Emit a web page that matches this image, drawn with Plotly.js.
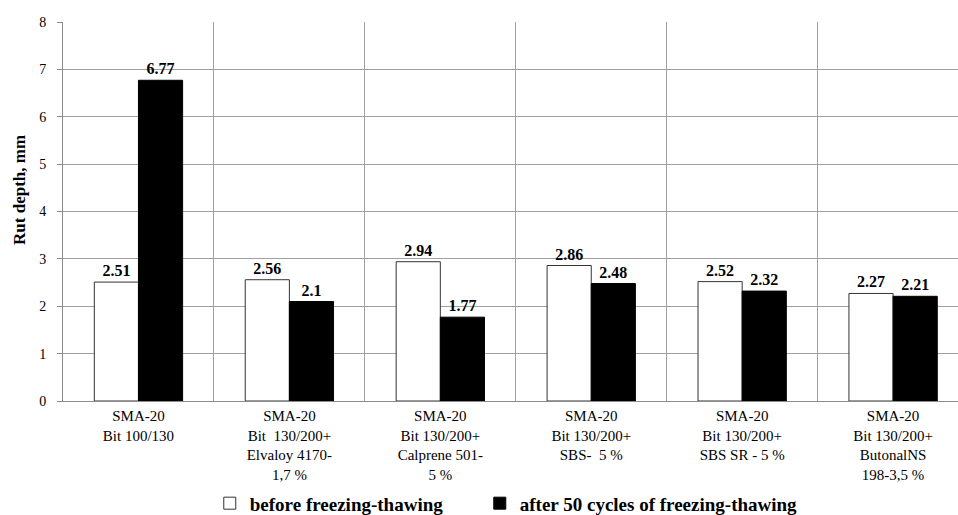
<!DOCTYPE html>
<html>
<head>
<meta charset="utf-8">
<script src="https://cdn.plot.ly/plotly-3.0.1.min.js"></script>
<style>html,body{margin:0;padding:0;background:#fff;overflow:hidden;}#chart{width:958px;height:515px;}</style>
</head>
<body>
<div id="chart"></div>
<script>
var categories = [
  "SMA-20<br>Bit 100/130",
  "SMA-20<br>Bit  130/200+<br>Elvaloy 4170-<br>1,7 %",
  "SMA-20<br>Bit 130/200+<br>Calprene 501-<br>5 %",
  "SMA-20<br>Bit 130/200+<br>SBS-  5 %",
  "SMA-20<br>Bit 130/200+<br>SBS SR - 5 %",
  "SMA-20<br>Bit 130/200+<br>ButonalNS<br>198-3,5 %"
];
var beforeValues = [2.51, 2.56, 2.94, 2.86, 2.52, 2.27];
var afterValues = [6.77, 2.1, 1.77, 2.48, 2.32, 2.21];
var seriesNames = ["before freezing-thawing", "after 50 cycles of freezing-thawing"];
var yTicks = [0, 1, 2, 3, 4, 5, 6, 7, 8];
var yTitle = "Rut depth, mm";

var serif = "Liberation Serif, Times New Roman, serif";

var traces = [
  {
    type: "bar", name: seriesNames[0], x: categories, y: beforeValues,
    marker: {color: "#ffffff", line: {color: "#333333", width: 1}},
    text: beforeValues.map(String), textposition: "outside", cliponaxis: false,
    textfont: {family: serif, size: 16, color: "#000", weight: "bold"},
    legendwidth: 225
  },
  {
    type: "bar", name: seriesNames[1], x: categories, y: afterValues,
    marker: {color: "#000000", line: {color: "#000000", width: 1}},
    text: afterValues.map(String), textposition: "outside", cliponaxis: false,
    textfont: {family: serif, size: 16, color: "#000", weight: "bold"},
    legendwidth: 330
  }
];

var layout = {
  width: 958, height: 515,
  margin: {l: 63, r: 0, t: 22, b: 114, pad: 0, autoexpand: false},
  paper_bgcolor: "#fff", plot_bgcolor: "#fff",
  font: {family: serif, size: 14, color: "#000"},
  barmode: "group", bargap: 0.415, bargroupgap: 0,
  showlegend: true,
  legend: {
    orientation: "h", x: 0.164, xanchor: "left", y: -0.27, yanchor: "middle",
    font: {family: serif, size: 19, color: "#000", weight: "bold"},
    entrywidthmode: "pixels",
    traceorder: "normal", itemwidth: 30
  },
  xaxis: {
    type: "category", range: [-0.5, 5.43],
    tickson: "boundaries", showgrid: true, gridcolor: "#a0a0a0", gridwidth: 1,
    ticks: "", showline: true, linecolor: "#8c8c8c", linewidth: 1,
    tickfont: {family: serif, size: 15, color: "#000"},
    ticklabelstandoff: 1, tickangle: 0, zeroline: false, fixedrange: true
  },
  yaxis: {
    range: [0, 8], tickvals: yTicks, ticktext: yTicks.map(String),
    showgrid: true, gridcolor: "#a0a0a0", gridwidth: 1,
    ticks: "outside", ticklen: 5, tickcolor: "#8c8c8c",
    showline: true, linecolor: "#8c8c8c", linewidth: 1, zeroline: false,
    tickfont: {family: serif, size: 14, color: "#000"},
    ticklabelstandoff: 8,
    fixedrange: true
  },
  annotations: [
    {
      text: yTitle, textangle: -90, showarrow: false,
      xref: "paper", yref: "paper", x: -0.048, y: 0.557,
      xanchor: "center", yanchor: "middle",
      font: {family: serif, size: 17, color: "#000", weight: "bold"}
    }
  ]
};

Plotly.newPlot("chart", traces, layout, {displayModeBar: false, staticPlot: true});
</script>
</body>
</html>
